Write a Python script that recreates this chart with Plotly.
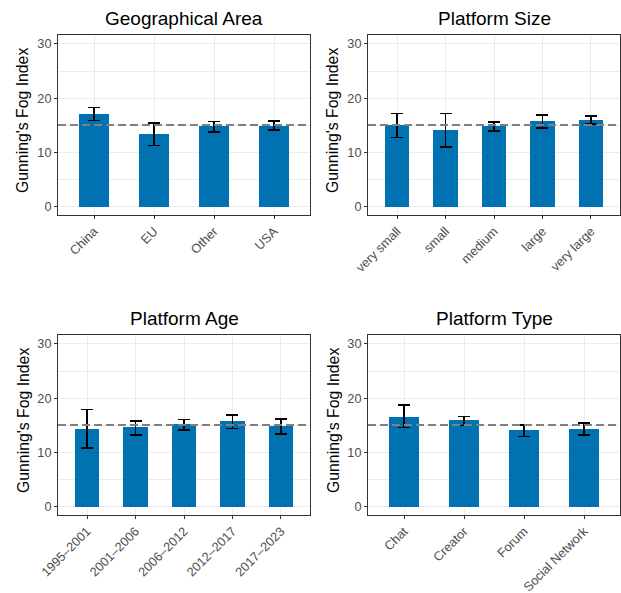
import plotly.graph_objects as go

# Mean Gunning's Fog Index per group, with asymmetric confidence bounds
geo_cats = ["China", "EU", "Other", "USA"]
geo_mean = [17.1, 13.4, 14.9, 14.9]
geo_hi = [18.3, 15.4, 15.7, 15.8]
geo_lo = [15.9, 11.3, 13.8, 14.1]

size_cats = ["very small", "small", "medium", "large", "very large"]
size_mean = [15.05, 14.1, 14.85, 15.8, 16.0]
size_hi = [17.2, 17.15, 15.6, 16.9, 16.7]
size_lo = [12.7, 11.0, 13.9, 14.5, 15.25]

age_cats = ["1995\u20132001", "2001\u20132006", "2006\u20132012", "2012\u20132017", "2017\u20132023"]
age_mean = [14.4, 14.6, 15.15, 15.7, 14.8]
age_hi = [17.95, 15.8, 16.05, 16.85, 16.2]
age_lo = [10.85, 13.2, 14.15, 14.45, 13.35]

type_cats = ["Chat", "Creator", "Forum", "Social Network"]
type_mean = [16.6, 15.9, 14.05, 14.4]
type_hi = [18.7, 16.6, 15.05, 15.45]
type_lo = [14.6, 14.95, 12.95, 13.2]

overall_mean = 15.05
y_ticks = [0, 10, 20, 30]

W, H = 621, 593
panels = [
    ("Geographical Area", geo_cats, geo_mean, geo_hi, geo_lo, (58, 310), (35, 215)),
    ("Platform Size", size_cats, size_mean, size_hi, size_lo, (368, 620), (35, 215)),
    ("Platform Age", age_cats, age_mean, age_hi, age_lo, (58, 310), (335, 515)),
    ("Platform Type", type_cats, type_mean, type_hi, type_lo, (368, 620), (335, 515)),
]

FONT = "Liberation Sans, Arial, sans-serif"
BAR = "#0072B2"
GRID = "#EBEBEB"
BORDER = "#333333"
TICK_FONT = dict(family=FONT, size=12.7, color="#4D4D4D")

fig = go.Figure()
annotations = []
shapes = []
layout = {}

for i, (title, cats, mean, hi, lo, (x0, x1), (y0, y1)) in enumerate(panels, start=1):
    xa = "x" if i == 1 else f"x{i}"
    ya = "y" if i == 1 else f"y{i}"
    idx = list(range(len(cats)))
    fig.add_trace(go.Bar(
        x=idx, y=mean, width=0.5, marker=dict(color=BAR, line=dict(width=0)),
        error_y=dict(type="data", symmetric=False,
                     array=[h - m for h, m in zip(hi, mean)],
                     arrayminus=[m - l for m, l in zip(mean, lo)],
                     color="black", thickness=1.5, width=6),
        xaxis=xa, yaxis=ya, showlegend=False, hoverinfo="skip",
    ))
    xdom = [x0 / W, x1 / W]
    ydom = [1 - y1 / H, 1 - y0 / H]
    n = len(cats)
    layout["xaxis" if i == 1 else f"xaxis{i}"] = dict(
        domain=xdom, anchor=ya, range=[-0.6, n - 1 + 0.6], automargin=False,
        tickmode="array", tickvals=idx, ticktext=cats, tickangle=-45,
        tickfont=TICK_FONT,
        showgrid=True, gridcolor=GRID, gridwidth=1,
        showline=True, mirror=True, linecolor=BORDER, linewidth=1,
        ticks="outside", ticklen=3, tickcolor=BORDER, zeroline=False,
    )
    layout["yaxis" if i == 1 else f"yaxis{i}"] = dict(
        domain=ydom, anchor=xa, range=[-1.55, 31.65], automargin=False,
        tickmode="array", tickvals=y_ticks,
        tickfont=TICK_FONT,
        showgrid=True, gridcolor=GRID, gridwidth=1,
        minor=dict(tickvals=[5, 15, 25], showgrid=True, gridcolor=GRID, gridwidth=0.6),
        showline=True, mirror=True, linecolor=BORDER, linewidth=1,
        ticks="outside", ticklen=3, tickcolor=BORDER, zeroline=False,
    )
    shapes.append(dict(type="line", xref=f"{xa} domain", yref=ya, x0=0, x1=1,
                       y0=overall_mean, y1=overall_mean,
                       line=dict(color="#808080", width=2, dash="8px,4px"), layer="above"))
    # panel title
    annotations.append(dict(text=title, x=(x0 + x1) / 2 / W, y=1 - (y0 - 17) / H,
                            xref="paper", yref="paper", showarrow=False,
                            xanchor="center", yanchor="middle",
                            font=dict(family=FONT, size=19, color="black")))
    # y-axis title
    annotations.append(dict(text="Gunning's Fog Index", x=(x0 - 35) / W,
                            y=1 - ((y0 + y1) / 2 - 4) / H,
                            xref="paper", yref="paper", showarrow=False, textangle=-90,
                            xanchor="center", yanchor="middle",
                            font=dict(family=FONT, size=15.8, color="black")))

fig.update_layout(
    width=W, height=H, margin=dict(l=0, r=0, t=0, b=0),
    paper_bgcolor="white", plot_bgcolor="white",
    annotations=annotations, shapes=shapes, bargap=0, **layout,
)

fig.write_html("out.html")
